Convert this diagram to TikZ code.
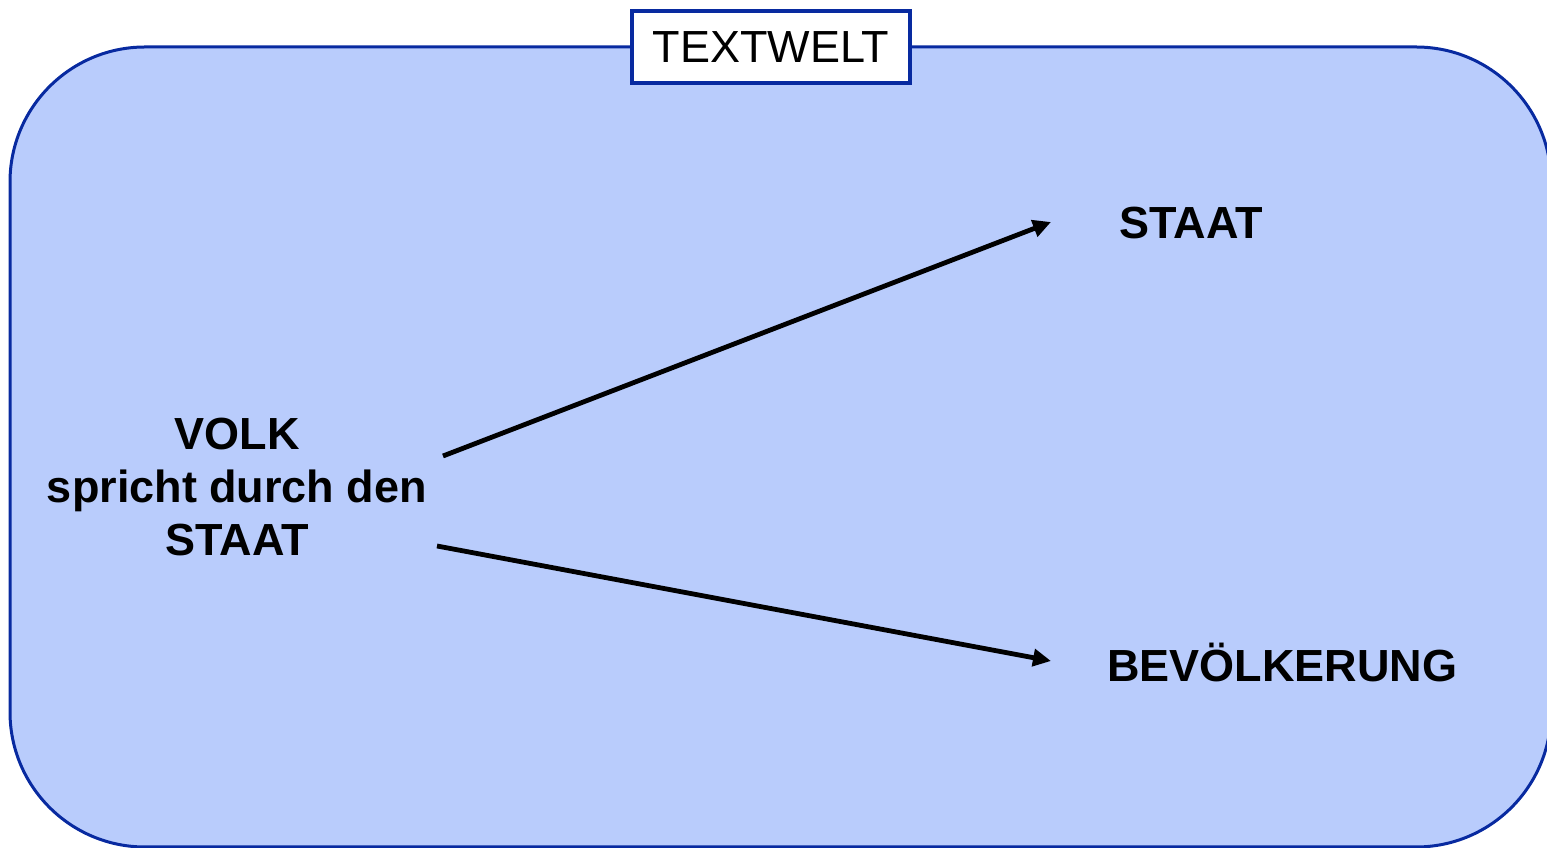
\documentclass[tikz,border=0pt]{standalone}
\usepackage{fontspec}
\setmainfont{Liberation Sans}
\usetikzlibrary{arrows.meta}
\definecolor{frameblue}{RGB}{8,42,160}
\definecolor{worldfill}{RGB}{185,204,252}
\tikzset{
  x=1pt, y=1pt,
  world/.style={draw=frameblue, fill=worldfill, line width=3pt, rounded corners=135pt},
  titlebox/.style={draw=frameblue, fill=white, line width=4.5pt, minimum width=278pt,
    minimum height=72pt, inner sep=0pt, font=\fontsize{45}{52}\selectfont},
  term/.style={font=\bfseries\fontsize{45}{53}\selectfont, align=center, inner sep=0pt},
  link/.style={line width=4.8pt, -{Triangle[length=18pt,width=17pt]}}
}
\begin{document}
\begin{tikzpicture}
\useasboundingbox (0,0) rectangle (1547,848);
\begin{scope}
  \clip (0,0) rectangle (1547,848);
  \draw[world] (10,1) rectangle (1551,801);
\end{scope}
\node[titlebox] (title) at (771,801) {TEXTWELT};

\node[term] (volk) at (237,361) {VOLK\\spricht durch den\\STAAT};
\node[term] (staat) at (1191,625) {STAAT};
\node[term] (bev) at (1282,185) {BEVÖLKERUNG};

\coordinate (s1) at (443,392);
\coordinate (e1) at (1051,626);
\coordinate (s2) at (437,302);
\coordinate (e2) at (1051,187);
\draw[link] (s1) -- (e1);
\draw[link] (s2) -- (e2);
\end{tikzpicture}
\end{document}
